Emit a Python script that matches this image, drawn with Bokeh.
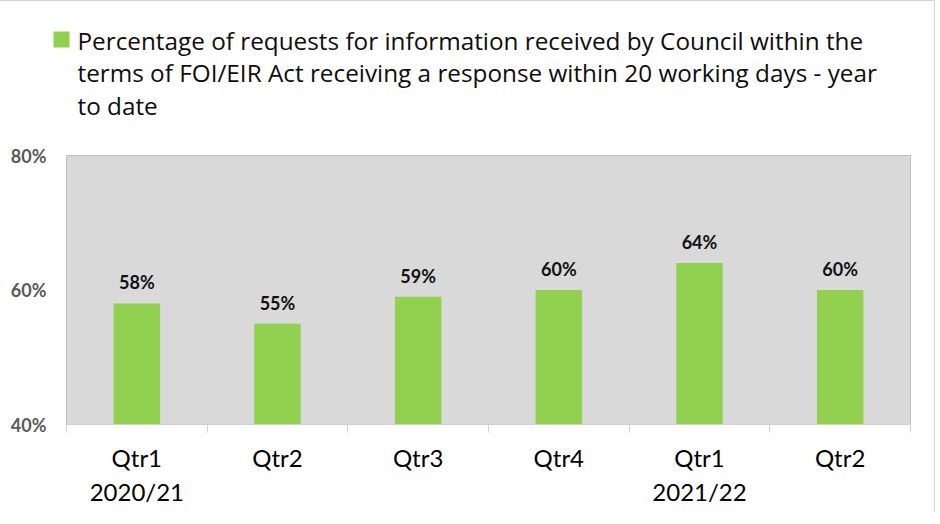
from bokeh.plotting import figure
from bokeh.layouts import column
from bokeh.models import (ColumnDataSource, Range1d, FixedTicker, PrintfTickFormatter, LabelSet)
from bokeh.core.properties import value
from bokeh.embed import file_html
from bokeh.resources import INLINE

quarters = ["Qtr1", "Qtr2", "Qtr3", "Qtr4", "Qtr1", "Qtr2"]
years = ["2020/21", "", "", "", "2021/22", ""]
values = [58, 55, 59, 60, 64, 60]
value_labels = [f"{v}%" for v in values]
y_ticks = [40, 60, 80]
legend_lines = [
    "Percentage of requests for information received by Council within the",
    "terms of FOI/EIR Act receiving a response within 20 working days - year",
    "to date",
]

GREEN = "#92D050"
FONT = "Lato"
W = 934
TOP_H = 130

# ---- legend strip (pixel coordinates) ----
lg = figure(width=W, height=TOP_H, x_range=Range1d(0, W), y_range=Range1d(TOP_H, 0),
            min_border=0, output_backend="svg", toolbar_location=None,
            background_fill_color="white", border_fill_color="white")
lg.frame_align = False
lg.axis.visible = False
lg.grid.visible = False
lg.outline_line_color = None
lg.quad(left=[53], right=[69], top=[30], bottom=[46], fill_color=GREEN, line_color=None)
lg.text(x=[77] * len(legend_lines), y=[38.5 + 32.75 * i for i in range(len(legend_lines))],
        text=legend_lines, text_font=value("Open Sans"), text_font_size="24.3px",
        text_color="#0d0d0d", text_baseline="alphabetic", text_align="left")

# ---- main chart ----
n = len(values)
xs = [i + 0.5 for i in range(n)]
source = ColumnDataSource(dict(x=xs, top=values, label=value_labels))

p = figure(frame_width=844, frame_height=269,
           min_border_left=66, min_border_right=W - 66 - 844, min_border_top=24,
           min_border_bottom=88,
           x_range=Range1d(0, n), y_range=Range1d(40, 80),
           output_backend="svg", toolbar_location=None,
           background_fill_color="#D9D9D9", border_fill_color="white")
p.frame_align = False
p.outline_line_color = "#BFBFBF"
p.outline_line_width = 1
p.grid.visible = False

p.vbar(x="x", top="top", bottom=40, width=0.33, source=source,
       fill_color=GREEN, line_color=None)

labels = LabelSet(x="x", y="top", text="label", source=source, y_offset=14,
                  text_align="center", text_baseline="alphabetic",
                  text_font=value(FONT), text_font_style="bold", text_font_size="18px",
                  text_color="#111111")
p.add_layout(labels)

# y axis
p.yaxis.ticker = FixedTicker(ticks=y_ticks)
p.yaxis.formatter = PrintfTickFormatter(format="%d%%")
p.yaxis.axis_line_color = None
p.yaxis.major_tick_line_color = None
p.yaxis.minor_tick_line_color = None
p.yaxis.major_tick_out = 0
p.yaxis.major_label_standoff = 20
p.yaxis.major_label_text_font = FONT
p.yaxis.major_label_text_font_style = "bold"
p.yaxis.major_label_text_font_size = "18px"
p.yaxis.major_label_text_color = "#595959"

# x axis
p.xaxis.ticker = FixedTicker(ticks=xs, minor_ticks=list(range(n + 1)))
p.xaxis.major_label_overrides = {
    x: (q + ("\n" + y if y else "")) for x, q, y in zip(xs, quarters, years)
}
p.xaxis.axis_line_color = "#D0D0D0"
p.xaxis.major_tick_line_color = None
p.xaxis.major_tick_out = 0
p.xaxis.major_tick_in = 0
p.xaxis.minor_tick_line_color = "#D0D0D0"
p.xaxis.minor_tick_out = 8
p.xaxis.minor_tick_in = 0
p.xaxis.major_label_standoff = 10
p.xaxis.major_label_text_font = FONT
p.xaxis.major_label_text_font_size = "24px"
p.xaxis.major_label_text_color = "#000000"
p.xaxis.major_label_text_line_height = 1.2

layout = column(lg, p, spacing=0)
layout.styles = {"border-top": "1px solid #D4D4D4", "border-right": "1px solid #D4D4D4"}
open("out.html", "w").write(file_html(layout, INLINE))
